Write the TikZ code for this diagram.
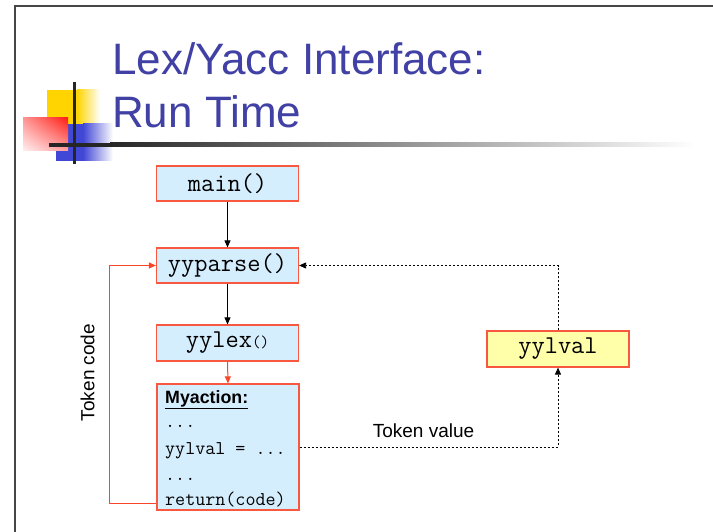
\documentclass[tikz,border=0pt]{standalone}
\usepackage{fontspec}
\setmainfont{Liberation Sans}
\usetikzlibrary{arrows.meta,shadings}
\definecolor{titleblue}{RGB}{64,64,165}
\definecolor{boxfill}{RGB}{213,238,253}
\definecolor{boxred}{RGB}{248,88,64}
\definecolor{loopred}{RGB}{250,70,40}
\definecolor{yelfill}{RGB}{255,255,170}
\definecolor{decoyel}{RGB}{255,212,0}
\definecolor{decoblue}{RGB}{66,72,214}
\definecolor{decored}{RGB}{255,30,20}
\definecolor{redul}{RGB}{255,150,150}
\definecolor{redlr}{RGB}{255,160,160}
\definecolor{redll}{RGB}{255,240,240}
\definecolor{framegray}{RGB}{70,70,70}
\tikzset{
  fbox/.style={draw=boxred, line width=1.2pt, fill=boxfill, minimum width=142pt, inner sep=0pt, font=\fontsize{25.7}{28}\selectfont\ttfamily},
  ybox/.style={fbox, fill=yelfill},
  blk/.style={-{Triangle[length=7pt,width=6pt]}, line width=0.8pt, black},
  redl/.style={-{Triangle[length=7pt,width=6pt]}, line width=1pt, loopred},
  dotl/.style={-{Triangle[length=7pt,width=6pt]}, line width=0.8pt, black, dash pattern=on 2pt off 2pt},
  lbl/.style={font=\fontsize{19}{22}\selectfont, inner sep=0pt},
  mtxt/.style={font=\fontsize{19.5}{22}\selectfont\ttfamily, inner sep=0pt, anchor=base west}
}
\begin{document}
\begin{tikzpicture}[x=1pt,y=-1pt]
\useasboundingbox (0,0) rectangle (713,532);
\fill[white] (0,0) rectangle (713,532);
% frame
\draw[framegray, line width=1.5pt] (15,532) -- (15,6) -- (713,6);
% decoration
\fill[decoyel] (47,90) rectangle (77,124);
\shade[left color=decoyel, right color=white] (77,90) rectangle (100,124);
\fill[decoblue] (56,124) rectangle (83,161);
\shade[left color=decoblue, right color=white] (83,124) rectangle (113,161);
\shade[upper right=decored, upper left=redul, lower right=redlr, lower left=redll] (23,118) rectangle (68,151);
\fill[black!85] (49,143) rectangle (110,147);
\shade[left color=black!85, right color=white] (110,143) rectangle (695,147);
\fill[black!85] (72.5,82) rectangle (75.5,164);
% title
\node[anchor=base west, inner sep=0pt, text=titleblue, font=\fontsize{44}{52}\selectfont] (t1) at (112,75) {Lex/Yacc Interface:};
\node[anchor=base west, inner sep=0pt, text=titleblue, font=\fontsize{44}{52}\selectfont] (t2) at (112,128) {Run Time};
% boxes
\node[fbox, minimum height=35pt] (mn) at (227.5,183.5) {main()};
\node[fbox, minimum height=35pt] (yp) at (227.5,265.5) {yyparse()};
\node[fbox, minimum height=36pt] (yl) at (227.5,343) {yylex{\fontsize{16.6}{18}\selectfont()}};
\node[fbox, minimum height=126pt] (ma) at (228,447) {};
\node[ybox, minimum height=36pt] (yv) at (558,349) {yylval};
% Myaction text
\node[anchor=base west, inner sep=0pt, font=\fontsize{17.8}{20}\selectfont\bfseries] (m0) at (165,403) {\underline{Myaction:}};
\node[mtxt] (m1) at (165,427) {...};
\node[mtxt] (m2) at (165,454) {yylval = ...};
\node[mtxt] (m3) at (165,480) {...};
\node[mtxt] (m4) at (165,505) {return(code)};
% arrows
\draw[blk] (mn.south) -- (yp.north);
\draw[blk] (yp.south) -- (yl.north);
\draw[redl] (yl.south) -- (ma.north);
\coordinate (lc) at (109,503);
\draw[redl] (ma.west |- lc) -- (lc) |- (yp.west);
\coordinate (tv) at (558,447);
\draw[dotl] (ma.east |- tv) -- (tv) -- (yv.south);
\draw[dotl] (yv.north) |- (yp.east);
% labels
\node[lbl, anchor=base] (tvl) at (423.5,437.5) {Token value};
\node[lbl, rotate=90] (tcl) at (87.5,372.5) {Token code};
\end{tikzpicture}
\end{document}
